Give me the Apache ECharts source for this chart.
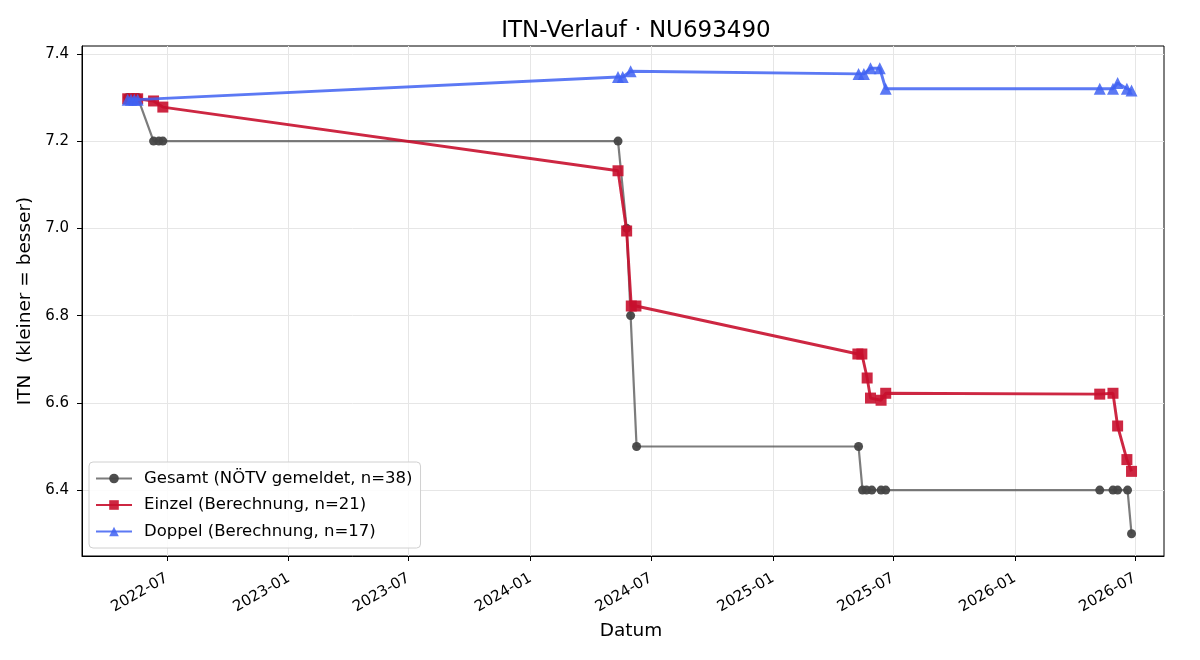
<!DOCTYPE html>
<html>
<head>
<meta charset="utf-8">
<title>ITN-Verlauf</title>
<script src="https://cdn.jsdelivr.net/npm/echarts@6/dist/echarts.min.js"></script>
<style>
  html, body { margin: 0; padding: 0; background: #fff; }
  #chart { width: 1200px; height: 660px; }
</style>
</head>
<body>
<div id="chart"></div>
<script>
// Gesamt (NÖTV gemeldet)
const gesamtDates = ['2022-05-03', '2022-05-11', '2022-05-18', '2022-06-11', '2022-06-19', '2022-06-25',
  '2024-05-12', '2024-05-25', '2024-05-31', '2024-06-09',
  '2025-05-10', '2025-05-16', '2025-05-22', '2025-05-30', '2025-06-13', '2025-06-20',
  '2026-05-09', '2026-05-29', '2026-06-05', '2026-06-20', '2026-06-26']
const gesamtValues = [7.30, 7.30, 7.30, 7.20, 7.20, 7.20,
  7.20, 7.00, 6.80, 6.50,
  6.50, 6.40, 6.40, 6.40, 6.40, 6.40,
  6.40, 6.40, 6.40, 6.40, 6.30]

// Einzel (Berechnung)
const einzelDates = ['2022-05-03', '2022-05-11', '2022-05-18', '2022-06-11', '2022-06-25',
  '2024-05-12', '2024-05-25', '2024-06-01', '2024-06-08',
  '2025-05-09', '2025-05-15', '2025-05-23', '2025-05-28', '2025-06-13', '2025-06-20',
  '2026-05-09', '2026-05-29', '2026-06-05', '2026-06-19', '2026-06-26']
const einzelValues = [7.297, 7.297, 7.297, 7.292, 7.278,
  7.132, 6.994, 6.822, 6.822,
  6.712, 6.712, 6.657, 6.611, 6.606, 6.622,
  6.620, 6.622, 6.547, 6.470, 6.443]

// Doppel (Berechnung)
const doppelDates = ['2022-05-03', '2022-05-08', '2022-05-13', '2022-05-18',
  '2024-05-12', '2024-05-19', '2024-05-31',
  '2025-05-10', '2025-05-18', '2025-05-28', '2025-06-11', '2025-06-20',
  '2026-05-09', '2026-05-29', '2026-06-05', '2026-06-19', '2026-06-26']
const doppelValues = [7.295, 7.295, 7.295, 7.295,
  7.347, 7.347, 7.360,
  7.354, 7.354, 7.367, 7.367, 7.320,
  7.320, 7.320, 7.333, 7.320, 7.316]

// Achsen-Ticks
const xTicks = ['2022-07-01', '2023-01-01', '2023-07-01', '2024-01-01', '2024-07-01',
  '2025-01-01', '2025-07-01', '2026-01-01', '2026-07-01']
const yTicks = [6.4, 6.6, 6.8, 7.0, 7.2, 7.4]

const seriesNames = ['Gesamt (NÖTV gemeldet, n=38)', 'Einzel (Berechnung, n=21)', 'Doppel (Berechnung, n=17)']

const font = 'DejaVu Sans'
const toTime = s => new Date(s + 'T00:00:00').getTime()
const pairs = (dates, values) => dates.map((d, i) => [toTime(d), values[i]])
const fmtMonth = v => {
  const d = new Date(v)
  return d.getFullYear() + '-' + String(d.getMonth() + 1).padStart(2, '0')
}

const chart = echarts.init(document.getElementById('chart'))

const option = {
  animation: false,
  backgroundColor: '#fff',
  textStyle: { fontFamily: font },
  title: {
    text: 'ITN-Verlauf · NU693490',
    left: 631,
    textAlign: 'center',
    top: 15,
    textStyle: { fontFamily: font, fontSize: 23, fontWeight: 'normal', color: '#000' }
  },
  grid: {
    left: 82,
    right: 36,
    top: 46,
    bottom: 104,
    show: true,
    borderColor: '#000',
    borderWidth: 1,
    backgroundColor: 'transparent'
  },
  legend: {
    orient: 'vertical',
    left: 89,
    top: 462,
    backgroundColor: 'rgba(255,255,255,0.85)',
    borderColor: '#d0d0d0',
    borderWidth: 1,
    borderRadius: 4,
    padding: [8, 8, 8, 6],
    itemWidth: 36,
    itemHeight: 12,
    itemGap: 9.5,
    textStyle: { fontFamily: font, fontSize: 16.5, color: '#000', padding: [0, 0, 0, 7] },
    data: seriesNames
  },
  xAxis: {
    type: 'value',
    min: toTime('2022-02-23'),
    max: toTime('2026-08-14'),
    name: 'Datum',
    nameLocation: 'middle',
    nameGap: 66,
    nameTextStyle: { fontFamily: font, fontSize: 18.5, color: '#000', padding: [0, 0, 0, 16] },
    axisLine: { show: true, onZero: false, lineStyle: { color: '#000', width: 1 } },
    axisTick: { show: true, length: 5, lineStyle: { color: '#000' }, customValues: xTicks.map(toTime) },
    axisLabel: {
      customValues: xTicks.map(toTime),
      rotate: 30,
      fontFamily: font,
      fontSize: 15,
      color: '#000',
      margin: 21,
      formatter: fmtMonth
    },
    splitLine: { show: true, lineStyle: { color: '#e6e6e6', width: 1 } }
  },
  yAxis: {
    type: 'value',
    min: 6.249,
    max: 7.418,
    name: 'ITN  (kleiner = besser)',
    nameLocation: 'middle',
    nameGap: 47,
    nameTextStyle: { fontFamily: font, fontSize: 18.5, color: '#000' },
    axisLine: { show: true, onZero: false, lineStyle: { color: '#000', width: 1 } },
    axisTick: { show: true, length: 5, lineStyle: { color: '#000' }, customValues: yTicks },
    axisLabel: {
      customValues: yTicks,
      fontFamily: font,
      fontSize: 15,
      color: '#000',
      margin: 13,
      formatter: v => v.toFixed(1)
    },
    splitLine: { show: true, lineStyle: { color: '#e6e6e6', width: 1 } }
  },
  series: [
    {
      name: seriesNames[0],
      type: 'line',
      data: pairs(gesamtDates, gesamtValues),
      symbol: 'circle',
      symbolSize: 9,
      showAllSymbol: true,
      lineStyle: { color: '#444', width: 2.2, opacity: 0.7 },
      itemStyle: { color: '#444', opacity: 0.95 },
      z: 2
    },
    {
      name: seriesNames[1],
      type: 'line',
      data: pairs(einzelDates, einzelValues),
      symbol: 'rect',
      symbolSize: 11,
      showAllSymbol: true,
      lineStyle: { color: '#c8102e', width: 2.9, opacity: 0.9 },
      itemStyle: { color: '#c8102e', opacity: 0.9 },
      z: 3
    },
    {
      name: seriesNames[2],
      type: 'line',
      data: pairs(doppelDates, doppelValues),
      symbol: 'triangle',
      symbolSize: 12,
      showAllSymbol: true,
      lineStyle: { color: '#3f62f2', width: 2.9, opacity: 0.85 },
      itemStyle: { color: '#3f62f2', opacity: 0.85 },
      z: 4
    }
  ]
}

chart.setOption(option)
</script>
</body>
</html>
